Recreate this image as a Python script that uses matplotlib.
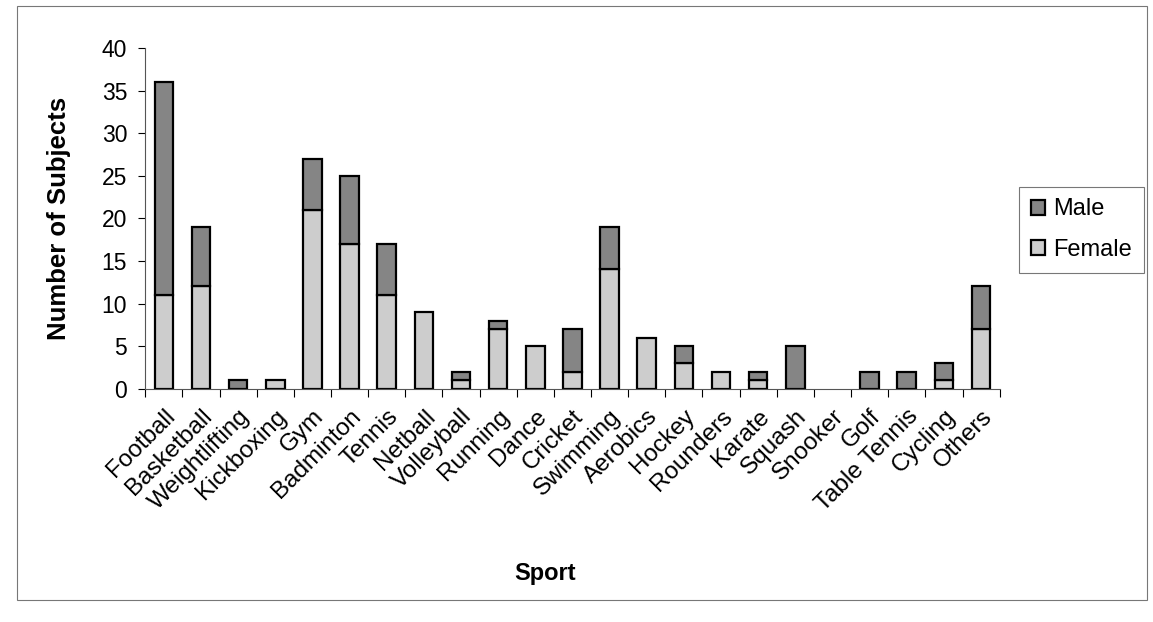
import numpy as np
import matplotlib.pyplot as plt
from matplotlib.patches import Rectangle

# values
sports = ["Football", "Basketball", "Weightlifting", "Kickboxing", "Gym", "Badminton",
          "Tennis", "Netball", "Volleyball", "Running", "Dance", "Cricket", "Swimming",
          "Aerobics", "Hockey", "Rounders", "Karate", "Squash", "Snooker", "Golf",
          "Table Tennis", "Cycling", "Others"]
female = [11, 12, 0, 1, 21, 17, 11, 9, 1, 7, 5, 2, 14, 6, 3, 2, 1, 0, 0, 0, 0, 1, 7]
male = [25, 7, 1, 0, 6, 8, 6, 0, 1, 1, 0, 5, 5, 0, 2, 0, 1, 5, 0, 2, 2, 2, 5]

plt.rcParams['font.family'] = ['Liberation Sans', 'DejaVu Sans']

fig = plt.figure(figsize=(11.53, 6.22), dpi=100)
ax = fig.add_axes([0.126, 0.375, 0.741, 0.548])

x = np.arange(len(sports))
b_f = ax.bar(x, female, width=0.5, color='#cdcdcd', edgecolor='black', linewidth=1.6,
             label='Female')
b_m = ax.bar(x, male, width=0.5, bottom=female, color='#858585', edgecolor='black',
             linewidth=1.6, label='Male')
# empty segments should leave no outline
for p in list(b_f) + list(b_m):
    if p.get_height() == 0:
        p.set_visible(False)

ax.set_xlim(-0.5, len(sports) - 0.5)
ax.set_ylim(0, 40)
ax.set_yticks(range(0, 41, 5))
ax.tick_params(axis='y', labelsize=16.5, direction='out', length=5, width=0.8, pad=8)

ax.set_xticks(x)
ax.set_xticklabels(sports, rotation=45, ha='right', rotation_mode='anchor', fontsize=17.5)
ax.tick_params(axis='x', which='major', length=0, pad=12)
ax.set_xticks(np.arange(-0.5, len(sports), 1), minor=True)
ax.tick_params(axis='x', which='minor', length=6, width=0.8, direction='out')

for side in ['top', 'right']:
    ax.spines[side].set_visible(False)
for side in ['left', 'bottom']:
    ax.spines[side].set_linewidth(0.8)
    ax.spines[side].set_color('#555555')

ax.set_ylabel('Number of Subjects', fontsize=18.5, fontweight='bold', labelpad=22)
fig.text(0.473, 0.068, 'Sport', fontsize=17, fontweight='bold', ha='center')

handles, labels = ax.get_legend_handles_labels()
leg = fig.legend(handles[::-1], labels[::-1], loc='upper left',
                 bbox_to_anchor=(0.884, 0.70), fontsize=17, frameon=True,
                 fancybox=False, edgecolor='#555555', handlelength=0.6,
                 handleheight=0.6, handletextpad=0.35, labelspacing=0.8,
                 borderpad=0.5, borderaxespad=0)
leg.get_frame().set_linewidth(0.8)

# outer frame of the chart area
fig.patches.append(Rectangle((0.015, 0.035), 0.98, 0.955, transform=fig.transFigure,
                             fill=False, edgecolor='#777777', linewidth=0.8))

fig.savefig('out.png', dpi=100)
